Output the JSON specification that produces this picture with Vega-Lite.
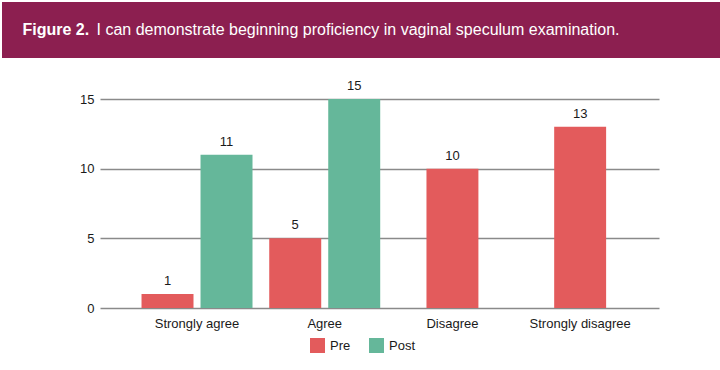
{
  "$schema": "https://vega.github.io/schema/vega-lite/v6.json",
  "padding": {"left": 2, "top": 2, "right": 0, "bottom": 0},
  "background": "white",
  "spacing": 22,
  "center": true,
  "config": {"font": "Liberation Sans", "view": {"stroke": null}},
  "vconcat": [
    {
      "width": 755,
      "height": 56,
      "view": {"fill": "#8C1F50", "stroke": null},
      "data": {"values": [{"banner": "Figure 2. I can demonstrate beginning proficiency in vaginal speculum examination."}]},
      "layer": [
        {"mark": {"type": "text", "text": "Figure 2.", "font": "Liberation Sans", "fontWeight": "bold", "fontSize": 16, "color": "white", "align": "left", "baseline": "middle", "dx": -357}},
        {"mark": {"type": "text", "text": "I can demonstrate beginning proficiency in vaginal speculum examination.", "font": "Liberation Sans", "fontSize": 16, "color": "white", "align": "left", "baseline": "middle", "dx": -283}}
      ]
    },
    {
      "width": 559,
      "height": 209,
      "data": {
        "values": [
          {"response": "Strongly agree", "group": "Pre", "count": 1},
          {"response": "Strongly agree", "group": "Post", "count": 11},
          {"response": "Agree", "group": "Pre", "count": 5},
          {"response": "Agree", "group": "Post", "count": 15},
          {"response": "Disagree", "group": "Pre", "count": 10},
          {"response": "Strongly disagree", "group": "Pre", "count": 13}
        ]
      },
      "encoding": {
        "x": {
          "field": "response",
          "type": "nominal",
          "sort": ["Strongly agree", "Agree", "Disagree", "Strongly disagree"],
          "scale": {"paddingInner": 0.131, "paddingOuter": 0.254, "align": 0.64},
          "axis": {"title": null, "labelAngle": 0, "labelFontSize": 13, "labelColor": "#1a1a1a", "ticks": false, "tickSize": 0, "domain": false, "labelPadding": 9}
        },
        "y": {
          "field": "count",
          "type": "quantitative",
          "scale": {"domain": [0, 15], "nice": false},
          "axis": {"title": null, "values": [0, 5, 10, 15], "ticks": false, "tickSize": 0, "domain": false, "labelFontSize": 13, "labelColor": "#1a1a1a", "labelPadding": 6, "gridColor": "#8a8a8a", "gridWidth": 1.5}
        },
        "color": {
          "field": "group",
          "type": "nominal",
          "scale": {"domain": ["Pre", "Post"], "range": ["#E35B5C", "#65B79A"]},
          "legend": {"title": null, "orient": "none", "legendX": 308, "legendY": 336, "direction": "horizontal", "symbolType": "square", "symbolSize": 225, "symbolStrokeWidth": 0, "labelFontSize": 13, "labelColor": "#1a1a1a", "labelOffset": 5, "columnPadding": 18}
        }
      },
      "layer": [
        {
          "transform": [{"filter": {"field": "response", "oneOf": ["Strongly agree", "Agree"]}}],
          "encoding": {"xOffset": {"field": "group", "type": "nominal", "sort": ["Pre", "Post"], "scale": {"paddingInner": 0.119}}},
          "layer": [
            {"mark": {"type": "bar"}},
            {"mark": {"type": "text", "fontSize": 13, "baseline": "alphabetic", "dy": -9}, "encoding": {"text": {"field": "count", "type": "quantitative"}, "color": {"value": "#1a1a1a"}}}
          ]
        },
        {
          "transform": [{"filter": {"field": "response", "oneOf": ["Disagree", "Strongly disagree"]}}],
          "layer": [
            {"mark": {"type": "bar", "width": {"band": 0.468}}},
            {"mark": {"type": "text", "fontSize": 13, "baseline": "alphabetic", "dy": -9}, "encoding": {"text": {"field": "count", "type": "quantitative"}, "color": {"value": "#1a1a1a"}}}
          ]
        }
      ]
    }
  ]
}
